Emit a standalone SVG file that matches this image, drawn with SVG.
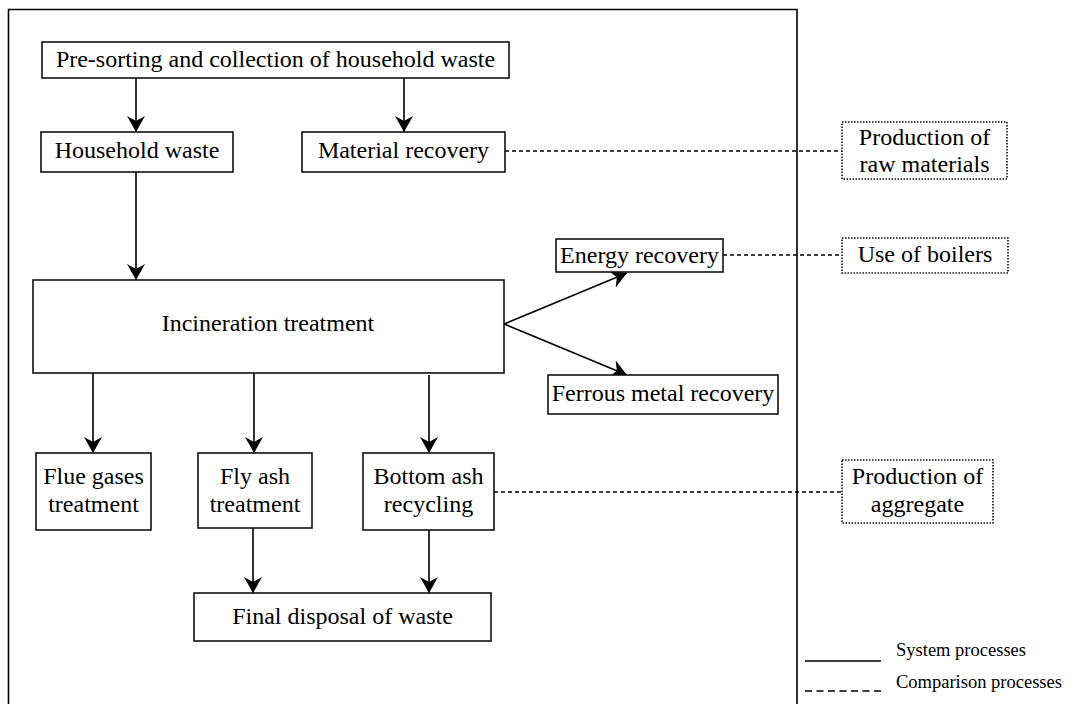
<svg xmlns="http://www.w3.org/2000/svg" width="1072" height="704" viewBox="0 0 1072 704">
<defs>
<marker id="arr" markerUnits="userSpaceOnUse" viewBox="0 0 16 18" markerWidth="16" markerHeight="18" refX="16" refY="9" orient="auto">
<path d="M16,9 L0,0 L5,9 L0,18 Z" fill="#000"/>
</marker>
<style>
.box{fill:#fff;stroke:#111;stroke-width:1.6}
.cmp{fill:#fff;stroke:#111;stroke-width:1.6;stroke-dasharray:1.5 1.5}
.t{font-family:"Liberation Serif","Times New Roman",serif;font-size:24px;fill:#000;text-anchor:middle}
.lg{font-family:"Liberation Serif","Times New Roman",serif;font-size:18.5px;fill:#000}
.sol{stroke:#000;stroke-width:1.6;fill:none}
.arrow{stroke:#000;stroke-width:1.6;fill:none;marker-end:url(#arr)}
.dash{stroke:#000;stroke-width:1.6;fill:none;stroke-dasharray:4 3}
</style>
</defs>
<rect width="1072" height="704" fill="#fff"/>
<g id="frame">
<path class="sol" d="M8.5,706 L8.5,9.5 L797,9.5 L797,706"/>
</g>
<g id="connectors">
<line class="arrow" x1="136" y1="78" x2="136" y2="132"/>
<line class="arrow" x1="404" y1="78" x2="404" y2="132"/>
<line class="arrow" x1="136" y1="172" x2="136" y2="280"/>
<line class="arrow" x1="504" y1="324" x2="627" y2="273"/>
<line class="arrow" x1="504" y1="324" x2="627" y2="375"/>
<line class="arrow" x1="93" y1="373" x2="93" y2="453"/>
<line class="arrow" x1="254" y1="373" x2="254" y2="453"/>
<line class="arrow" x1="429" y1="375" x2="429" y2="453"/>
<line class="arrow" x1="253" y1="528" x2="253" y2="593"/>
<line class="arrow" x1="429" y1="530" x2="429" y2="593"/>
<line class="dash" x1="505" y1="151" x2="842" y2="151"/>
<line class="dash" x1="723" y1="255" x2="842" y2="255"/>
<line class="dash" x1="494" y1="492" x2="842" y2="492"/>
</g>
<g id="presorting">
<rect class="box" x="42" y="42" width="467" height="36"/>
<text class="t" x="275.5" y="67">Pre-sorting and collection of household waste</text>
</g>
<g id="household">
<rect class="box" x="41" y="132" width="192" height="40"/>
<text class="t" x="137" y="158">Household waste</text>
</g>
<g id="material">
<rect class="box" x="302" y="132" width="203" height="40"/>
<text class="t" x="403.5" y="158">Material recovery</text>
</g>
<g id="incineration">
<rect class="box" x="33" y="280" width="471" height="93"/>
<text class="t" x="268" y="331">Incineration treatment</text>
</g>
<g id="energy">
<rect class="box" x="556" y="239" width="167" height="33"/>
<text class="t" x="639.5" y="263">Energy recovery</text>
</g>
<g id="ferrous">
<rect class="box" x="548" y="375" width="230" height="39"/>
<text class="t" x="663" y="401">Ferrous metal recovery</text>
</g>
<g id="flue">
<rect class="box" x="36" y="453" width="115" height="77"/>
<text class="t" x="93.5" y="484">Flue gases</text>
<text class="t" x="93.5" y="512">treatment</text>
</g>
<g id="flyash">
<rect class="box" x="198" y="453" width="114" height="75"/>
<text class="t" x="255" y="484">Fly ash</text>
<text class="t" x="255" y="512">treatment</text>
</g>
<g id="bottomash">
<rect class="box" x="363" y="453" width="131" height="77"/>
<text class="t" x="428.5" y="484">Bottom ash</text>
<text class="t" x="428.5" y="512">recycling</text>
</g>
<g id="final">
<rect class="box" x="194" y="593" width="297" height="48"/>
<text class="t" x="342.5" y="624">Final disposal of waste</text>
</g>
<g id="rawmaterials">
<rect class="cmp" x="842" y="122" width="165" height="57"/>
<text class="t" x="924.5" y="145">Production of</text>
<text class="t" x="924.5" y="172">raw materials</text>
</g>
<g id="boilers">
<rect class="cmp" x="842" y="238" width="166" height="35"/>
<text class="t" x="925" y="262">Use of boilers</text>
</g>
<g id="aggregate">
<rect class="cmp" x="842" y="460" width="151" height="63"/>
<text class="t" x="917.5" y="484">Production of</text>
<text class="t" x="917.5" y="512">aggregate</text>
</g>
<g id="legend">
<line class="sol" x1="805" y1="661" x2="881" y2="661"/>
<text class="lg" x="896" y="656">System processes</text>
<line x1="805" y1="691" x2="881" y2="691" stroke="#000" stroke-width="1.6" stroke-dasharray="7 4.5"/>
<text class="lg" x="896" y="688">Comparison processes</text>
</g>
</svg>
